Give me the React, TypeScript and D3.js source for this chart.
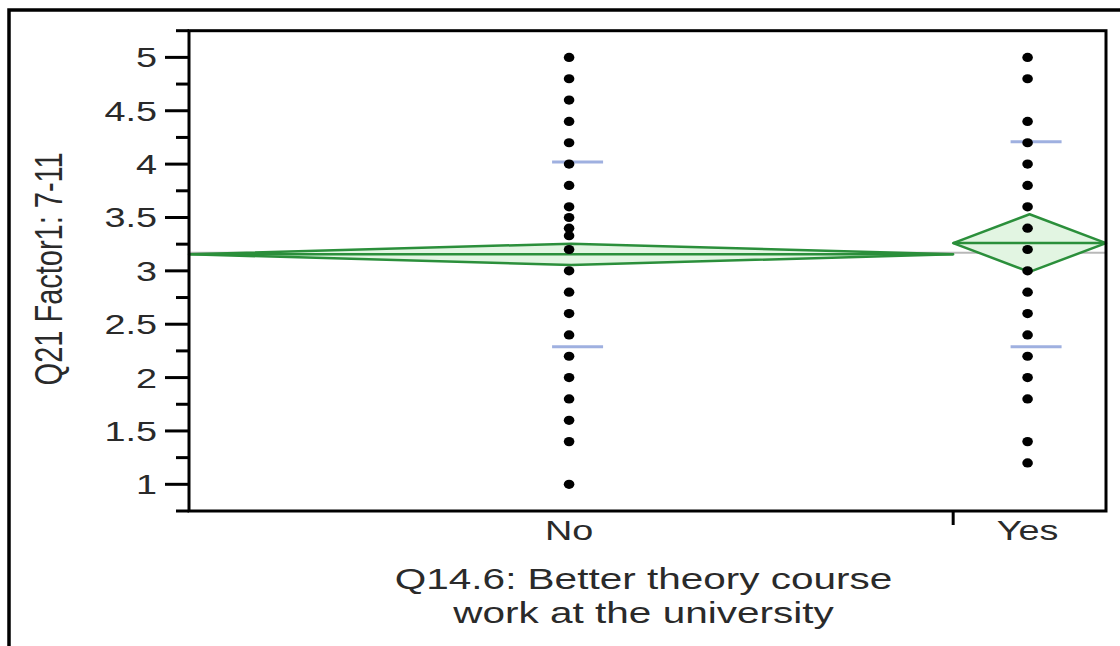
import * as d3 from "d3";

// groups on the x axis, widths proportional to group size (JMP style)
const groupNames = ["No", "Yes"];
const groupCounts = [40, 8];

// individual responses per group (overlapping values drawn once)
const noValues = [5, 4.8, 4.6, 4.4, 4.2, 4.0, 3.8, 3.6, 3.5, 3.4, 3.33, 3.2, 3.0, 2.8, 2.6, 2.4, 2.2, 2.0, 1.8, 1.6, 1.4, 1.0];
const yesValues = [5, 4.8, 4.4, 4.2, 4.0, 3.8, 3.6, 3.4, 3.2, 3.0, 2.8, 2.6, 2.4, 2.2, 2.0, 1.8, 1.4, 1.2];

const groupMeans = [3.155, 3.26];
const groupCIHalf = [0.1, 0.27];
const groupStdUpper = [4.02, 4.21];
const groupStdLower = [2.29, 2.29];
const grandMean = 3.17;

const yMajorTicks = [1, 1.5, 2, 2.5, 3, 3.5, 4, 4.5, 5];
const yMinorTicks = [0.75, 1.25, 1.75, 2.25, 2.75, 3.25, 3.75, 4.25, 4.75, 5.25];

const xTitle = ["Q14.6: Better theory course", "work at the university"];
const yTitle = "Q21 Factor1: 7-11";

const width = 1120;
const height = 646;
const left = 189;
const right = 1106;
const top = 30.7;
const bottom = 511;
const SX = 1.35; // the picture is stretched sideways
const font = "'Liberation Sans', Arial, sans-serif";

const green = "#2b8f3b";
const blue = "#9fb0e0";

const Txt = ({ x, y, size, anchor, rotate, children }: any) => (
  <text
    transform={`translate(${x},${y}) scale(${SX},1)${rotate ? ` rotate(${rotate})` : ""}`}
    fontSize={size}
    textAnchor={anchor}
    fill="#2a2a2a"
    fontFamily={font}
  >
    {children}
  </text>
);

export default function App() {
  const total = d3.sum(groupCounts);
  const x = d3.scaleLinear().domain([0, total]).range([left, right]);
  const y = d3.scaleLinear().domain([0.75, 5.25]).range([bottom, top]);

  const starts = d3.cumsum([0, ...groupCounts]);
  const groups = groupNames.map((name, i) => {
    const x0 = x(starts[i]);
    const x1 = x(starts[i + 1]);
    return { name, x0, x1, xc: (x0 + x1) / 2, i };
  });
  const values = [noValues, yesValues];

  return (
    <svg
      width={width}
      height={height}
      style={{ position: "absolute", left: 0, top: 0, background: "#fff" }}
    >
      {/* outer border */}
      <path d={`M9,${height} V10 H${width}`} fill="none" stroke="#000" strokeWidth={3.5} />

      {/* grand mean */}
      <line x1={left} x2={right} y1={y(grandMean)} y2={y(grandMean)} stroke="#b8b8b8" strokeWidth={2} />

      {/* means diamonds */}
      {groups.map((g) => {
        const m = groupMeans[g.i];
        const h = groupCIHalf[g.i];
        const path = d3.path();
        path.moveTo(g.x0, y(m));
        path.lineTo(g.xc, y(m + h));
        path.lineTo(g.x1, y(m));
        path.lineTo(g.xc, y(m - h));
        path.closePath();
        return (
          <g key={"d" + g.name}>
            <path d={path.toString()} fill="#e2f5e2" stroke={green} strokeWidth={2.5} strokeLinejoin="round" />
            <line x1={g.x0} x2={g.x1} y1={y(m)} y2={y(m)} stroke={green} strokeWidth={2.5} />
          </g>
        );
      })}

      {/* std dev lines */}
      {groups.map((g) =>
        [groupStdUpper[g.i], groupStdLower[g.i]].map((v, k) => (
          <line key={"s" + g.name + k} x1={g.xc - 19} x2={g.xc + 32} y1={y(v)} y2={y(v)} stroke={blue} strokeWidth={3} />
        ))
      )}

      {/* points */}
      {groups.map((g) =>
        values[g.i].map((v, k) => (
          <ellipse key={"p" + g.name + k} cx={g.xc - 2} cy={y(v)} rx={5.3} ry={4.6} fill="#000" />
        ))
      )}

      {/* frame */}
      <rect x={left} y={top} width={right - left} height={bottom - top} fill="none" stroke="#000" strokeWidth={3} />

      {/* y axis ticks */}
      {yMinorTicks.map((t) => (
        <line key={"mi" + t} x1={176} x2={left} y1={y(t)} y2={y(t)} stroke="#000" strokeWidth={3} />
      ))}
      {yMajorTicks.map((t) => (
        <g key={"ma" + t}>
          <line x1={165} x2={left} y1={y(t)} y2={y(t)} stroke="#000" strokeWidth={3} />
          <Txt x={157} y={y(t) + 10} size={28} anchor="end">
            {String(t)}
          </Txt>
        </g>
      ))}

      {/* x axis: group separator ticks and labels */}
      {groups.slice(1).map((g) => (
        <line key={"xt" + g.name} x1={g.x0} x2={g.x0} y1={bottom} y2={bottom + 14} stroke="#000" strokeWidth={3} />
      ))}
      {groups.map((g) => (
        <Txt key={"xl" + g.name} x={g.xc - 2} y={540} size={28} anchor="middle">
          {g.name}
        </Txt>
      ))}

      {/* titles */}
      {xTitle.map((line, k) => (
        <Txt key={"xtt" + k} x={(left + right) / 2 - 4} y={589 + k * 34} size={30} anchor="middle">
          {line}
        </Txt>
      ))}
      <Txt x={62} y={(top + bottom) / 2 - 2} size={29} anchor="middle" rotate={-90}>
        {yTitle}
      </Txt>
    </svg>
  );
}
